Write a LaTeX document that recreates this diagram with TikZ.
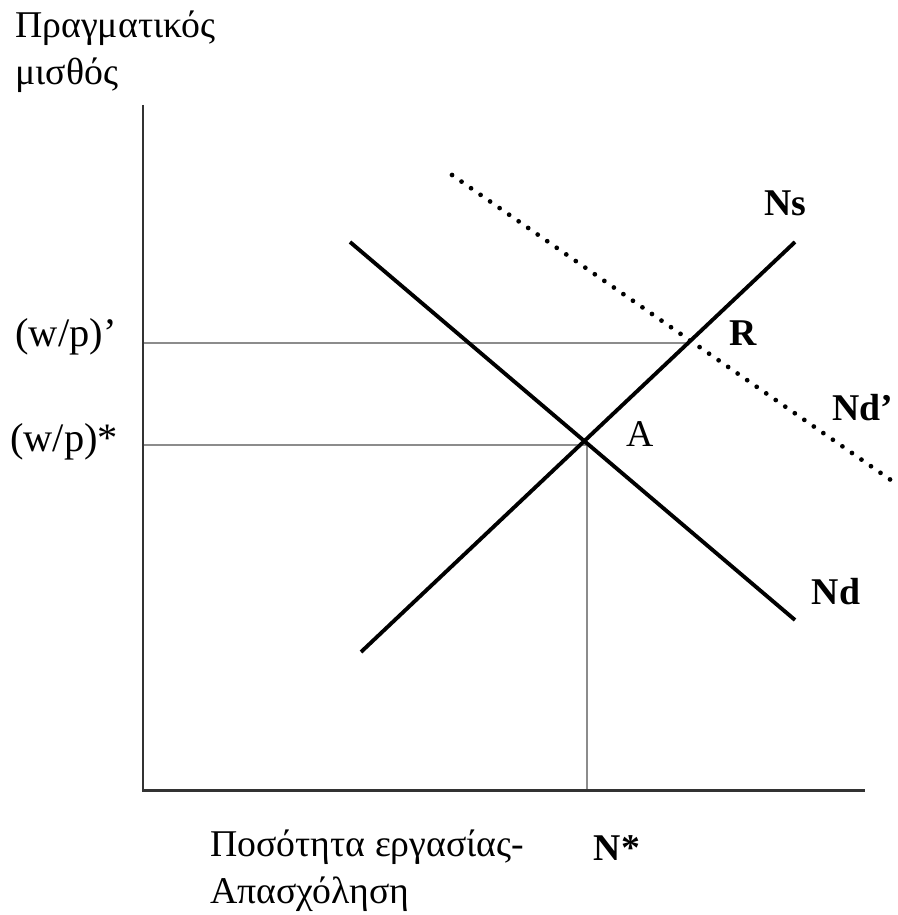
\documentclass[tikz,border=0pt]{standalone}
\usepackage{fontspec}
\setmainfont{Liberation Serif}
\usepackage{xcolor}
\usepackage{tikz}
\usetikzlibrary{positioning}

\begin{document}
\begin{tikzpicture}[x=0.02cm, y=-0.02cm,
    axis/.style={draw=black!80, line width=1.7pt},
    curve/.style={draw=black, line width=2.2pt},
    shifted/.style={draw=black, line width=2.7pt, line cap=round, dash pattern=on 0pt off 6.6pt},
    guide/.style={draw=black!45, line width=1pt},
    lbl/.style={font=\fontsize{21.5}{24}\selectfont, inner sep=0pt},
    blbl/.style={font=\fontsize{21.5}{24}\selectfont\bfseries, inner sep=0pt}]

    \useasboundingbox (0,0) rectangle (898,915);

    % Points
    \coordinate (origin) at (143,790);
    \coordinate (ytop) at (143,105);
    \coordinate (xend) at (865,790);
    \coordinate (nd-start) at (350,242);
    \coordinate (nd-end) at (795,620);
    \coordinate (ns-start) at (361,652);
    \coordinate (ns-end) at (795,242);
    \coordinate (ndp-start) at (452,175);
    \coordinate (ndp-end) at (898,485);
    \coordinate (ptA) at (587,445);
    \coordinate (ptR) at (690,343);
    \coordinate (wp-star) at (143,445);
    \coordinate (wp-prime) at (143,343);
    \coordinate (nstar) at (587,790);

    % Nodes
    \node (ylab1) [lbl, anchor=west] at (15,28) {Πραγματικός};
    \node (ylab2) [lbl, anchor=west] at (15,75) {μισθός};
    \node (wpprime) [lbl, font=\fontsize{23}{24}\selectfont] at (66,337) {(w/p)’};
    \node (wpstar) [lbl, font=\fontsize{23}{24}\selectfont] at (64,442) {(w/p)*};
    \node (ns) [blbl] at (785,203) {Ns};
    \node (labR) [blbl] at (743,333) {R};
    \node (labA) [lbl] at (640,434) {A};
    \node (ndprime) [blbl] at (863,408) {Nd’};
    \node (nd) [blbl] at (836,592) {Nd};
    \node (xlab1) [lbl, anchor=west] at (210,847) {Ποσότητα εργασίας-};
    \node (xlab2) [lbl, anchor=west] at (210,894) {Απασχόληση};
    \node (nstarlab) [blbl] at (617,848) {N*};

    % Links
    \draw[guide] (wp-prime) -- (ptR);
    \draw[guide] (wp-star) -- (ptA);
    \draw[guide] (ptA) -- (nstar);
    \draw[axis] (ytop) -- (origin) -- (xend);
    \draw[curve] (nd-start) -- (nd-end);
    \draw[curve] (ns-start) -- (ns-end);
    \draw[shifted] (ndp-start) -- (ndp-end);
\end{tikzpicture}
\end{document}
